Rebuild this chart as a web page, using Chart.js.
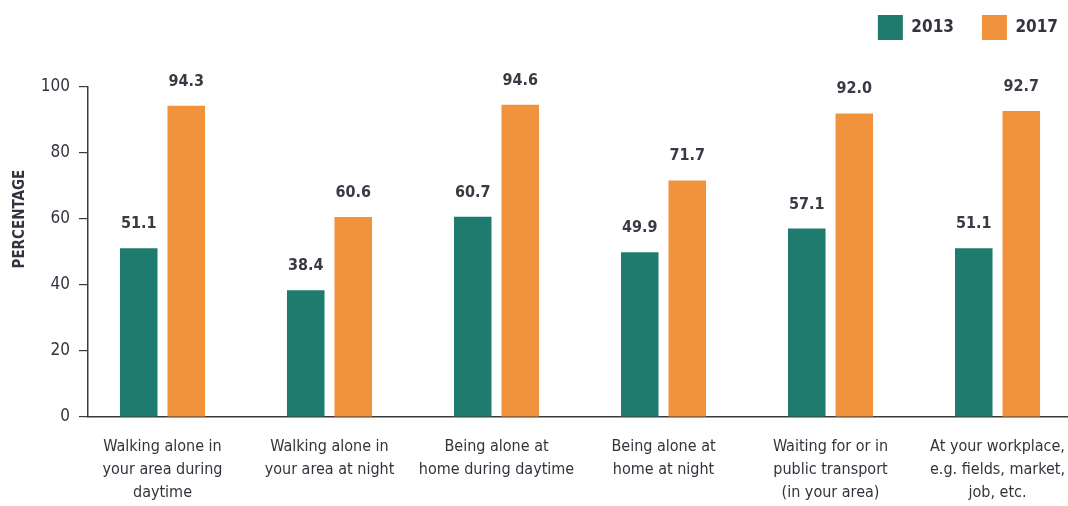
<!DOCTYPE html>
<html>
<head>
<meta charset="utf-8">
<title>Feeling safe 2013 vs 2017</title>
<script src="https://cdn.jsdelivr.net/npm/chart.js@4/dist/chart.umd.min.js"></script>
<style>
    html, body { margin: 0; padding: 0; background: #ffffff; overflow: hidden; }
    #wrap { width: 1068px; height: 506px; position: relative; }
</style>
</head>
<body>
<div id="wrap"><canvas id="safetyChart"></canvas></div>
<script>
const categories = [
    ['Walking alone in', 'your area during', 'daytime'],
    ['Walking alone in', 'your area at night'],
    ['Being alone at', 'home during daytime'],
    ['Being alone at', 'home at night'],
    ['Waiting for or in', 'public transport', '(in your area)'],
    ['At your workplace,', 'e.g. fields, market,', 'job, etc.']
];
const values2013 = [51.1, 38.4, 60.7, 49.9, 57.1, 51.1];
const values2017 = [94.3, 60.6, 94.6, 71.7, 92.0, 92.7];
const yTicks = [0, 20, 40, 60, 80, 100];

const FONT = '"Liberation Sans Narrow", "DejaVu Sans Condensed", "Arial Narrow", sans-serif';
const TEXT = '#33333d';
const TEAL = '#1f7b6d';
const ORANGE = '#f1923c';

// value labels over each bar
const barValueLabels = {
    id: 'barValueLabels',
    afterDatasetsDraw(chart) {
        const ctx = chart.ctx;
        ctx.save();
        ctx.font = 'bold 16px ' + FONT;
        ctx.fillStyle = '#3a3a46';
        ctx.textAlign = 'center';
        ctx.textBaseline = 'alphabetic';
        chart.data.datasets.forEach((ds, i) => {
            chart.getDatasetMeta(i).data.forEach((bar, j) => {
                ctx.fillText(ds.data[j].y.toFixed(1), bar.x, bar.y - 20);
            });
        });
        ctx.restore();
    }
};

// legend sits in a tall band at the top, nudged up/right a bit
const legendBand = {
    id: 'legendBand',
    beforeInit(chart) {
        const origFit = chart.legend.fit;
        chart.legend.fit = function () {
            origFit.call(this);
            this.height = 87;
        };
    },
    beforeDraw(chart) {
        const lg = chart.legend;
        lg.top = -13;
        lg.left += 18;
        lg.right += 18;
    }
};

const toPoints = arr => arr.map((v, i) => ({ x: i, y: v }));

new Chart(document.getElementById('safetyChart'), {
    type: 'bar',
    data: {
        datasets: [
            { label: '2013', data: toPoints(values2013), backgroundColor: TEAL },
            { label: '2017', data: toPoints(values2017), backgroundColor: ORANGE }
        ]
    },
    options: {
        responsive: true,
        maintainAspectRatio: false,
        animation: false,
        categoryPercentage: 0.569,
        barPercentage: 0.79,
        layout: { padding: 0 },
        plugins: {
            legend: {
                position: 'top',
                align: 'end',
                labels: {
                    boxWidth: 25,
                    boxHeight: 25,
                    padding: 28,
                    color: TEXT,
                    font: { family: FONT, size: 17, weight: 'bold' }
                }
            },
            tooltip: { enabled: false }
        },
        scales: {
            x: {
                type: 'linear',
                offset: false,
                bounds: 'data',
                min: -0.446,
                max: 5.422,
                afterBuildTicks: s => { s.ticks = categories.map((c, i) => ({ value: i })); },
                afterFit: s => {
                    s.height = 89;
                    s.paddingLeft = 0;
                    s.paddingRight = 0;
                },
                ticks: {
                    autoSkip: false,
                    maxRotation: 0,
                    padding: 10,
                    color: TEXT,
                    font: { family: FONT, size: 16, lineHeight: 1.45 },
                    callback: v => categories[v]
                },
                grid: { display: false, offset: false },
                border: { color: '#3a3a3a', width: 1.5 }
            },
            y: {
                min: 0,
                max: 100,
                afterBuildTicks: s => { s.ticks = yTicks.map(v => ({ value: v })); },
                afterFit: s => { s.width = 88; },
                ticks: {
                    padding: 9,
                    color: TEXT,
                    font: { family: FONT, size: 17 }
                },
                grid: {
                    drawOnChartArea: false,
                    tickLength: 9,
                    color: '#3a3a3a',
                    lineWidth: 1.2
                },
                border: { color: '#3a3a3a', width: 1.5 },
                title: {
                    display: true,
                    text: ' '.repeat(14) + 'PERCENTAGE',
                    color: TEXT,
                    padding: { top: 11, bottom: 0 },
                    font: { family: FONT, size: 15, weight: 'bold' }
                }
            }
        }
    },
    plugins: [barValueLabels, legendBand]
});
</script>
</body>
</html>
